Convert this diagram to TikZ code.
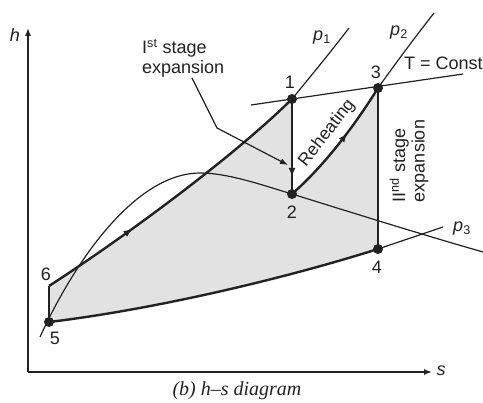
\documentclass[tikz,border=0pt]{standalone}
\usepackage{fontspec}
\setmainfont{Liberation Sans}
\newfontfamily\capfont{Liberation Serif}
\usetikzlibrary{arrows.meta,decorations.markings}
\definecolor{ink}{HTML}{222222}
\definecolor{areafill}{HTML}{E2E2E2}
\tikzset{
  thickline/.style={ink,line width=2.4pt},
  thinline/.style={ink,line width=1.2pt},
  axisline/.style={ink,line width=1.4pt,-{Latex[length=8pt,width=6pt]}},
  dot/.style={circle,fill=ink,inner sep=0pt,minimum size=10pt},
  lbl/.style={font=\fontsize{18}{20}\selectfont,text=ink,inner sep=0pt},
  midarrow/.style={postaction={decorate},decoration={markings,mark=at position #1 with {\arrow[ink]{Latex[length=9pt,width=7pt]}}}}
}
\begin{document}
\begin{tikzpicture}[x=1pt,y=1pt]
\useasboundingbox (0,0) rectangle (483,-403);
% points
\coordinate (P6) at (49,-286);
\coordinate (O) at (28,-372);
\coordinate (Ytop) at (28,-28);
\coordinate (Xend) at (432,-372);
\coordinate (C1) at (292,-99);
\coordinate (C2) at (292,-194);
\coordinate (C3) at (378,-88);
\coordinate (C4) at (378,-249);
\coordinate (C5) at (49,-322);
% shaded region
\fill[areafill] (C5) -- (P6) .. controls (120,-240) and (230,-160) .. (C1)
  -- (C2) .. controls (325,-165) and (355,-125) .. (C3)
  -- (C4) .. controls (280,-280) and (150,-310) .. (C5) -- cycle;
% axes
\draw[axisline] (O) -- (Ytop);
\draw[axisline] (O) -- (Xend);
\node[lbl,font=\fontsize{18}{20}\selectfont\itshape] (hlab) at (15,-35) {h};
\node[lbl,font=\fontsize{18}{20}\selectfont\itshape] (slab) at (441,-371) {s};
% saturation dome
\coordinate (D0) at (40,-337);
\coordinate (Dpk) at (200,-173);
\coordinate (Dend) at (483,-252);
\draw[thinline] (D0) .. controls (80,-250) and (140,-173) .. (Dpk)
  .. controls (228,-173) and (262,-185) .. (C2)
  .. controls (350,-212) and (420,-234) .. (Dend);
% constant pressure / temperature lines
\coordinate (P1e) at (349,-28);
\coordinate (P2e) at (434,-13);
\coordinate (P3e) at (443,-227);
\coordinate (Ta) at (251,-105);
\coordinate (Tb) at (463,-74);
\draw[thinline] (C1) .. controls (315,-71) and (333,-49) .. (P1e);
\draw[thinline] (C3) .. controls (398,-60) and (416,-36) .. (P2e);
\draw[thinline] (C4) -- (P3e);
\draw[thinline] (Ta) -- (Tb);
% cycle
\draw[thickline] (C5) -- (P6);
\draw[thickline,midarrow=0.33] (P6) .. controls (120,-240) and (230,-160) .. (C1);
\draw[thickline,midarrow=0.82] (C1) -- (C2);
\draw[thickline,midarrow=0.6] (C2) .. controls (325,-165) and (355,-125) .. (C3);
\draw[thickline] (C3) -- (C4);
\draw[thickline] (C4) .. controls (280,-280) and (150,-310) .. (C5);
% state points
\node[dot] (P1) at (C1) {};
\node[dot] (P2) at (C2) {};
\node[dot] (P3) at (C3) {};
\node[dot] (P4) at (C4) {};
\node[dot] (P5) at (C5) {};
% point labels
\node[lbl] (L1) at (290,-82) {1};
\node[lbl] (L2) at (292,-212) {2};
\node[lbl] (L3) at (376,-72) {3};
\node[lbl] (L4) at (377,-267) {4};
\node[lbl] (L5) at (55,-338) {5};
\node[lbl] (L6) at (46,-274) {6};
\node[lbl] (Lp1) at (322,-38) {\textit{p}\textsubscript{1}};
\node[lbl] (Lp2) at (399,-33) {\textit{p}\textsubscript{2}};
\node[lbl] (Lp3) at (462,-229) {\textit{p}\textsubscript{3}};
\node[lbl,anchor=west] (LT) at (404,-63) {T = Const};
% annotations
\node[lbl,align=left,anchor=west,font=\fontsize{18}{19.5}\selectfont] (first) at (142,-58) {I\textsuperscript{st} stage\\expansion};
\coordinate (lead1) at (192,-78);
\coordinate (lead2) at (217,-128);
\coordinate (lead3) at (288,-165);
\draw[thinline,-{Latex[length=8pt,width=6pt]}] (lead1) -- (lead2) -- (lead3);
\node[lbl,rotate=52,font=\fontsize{17.5}{19}\selectfont] (reh) at (327,-133) {Reheating};
\node[lbl,align=left,rotate=90,font=\fontsize{18}{19.5}\selectfont] (second) at (409,-161) {II\textsuperscript{nd} stage\\expansion};
% caption
\node[text=ink,inner sep=0pt] (cap) at (237,-391) {\capfont\itshape\fontsize{20}{22}\selectfont (b) h–s diagram};
\end{tikzpicture}
\end{document}
